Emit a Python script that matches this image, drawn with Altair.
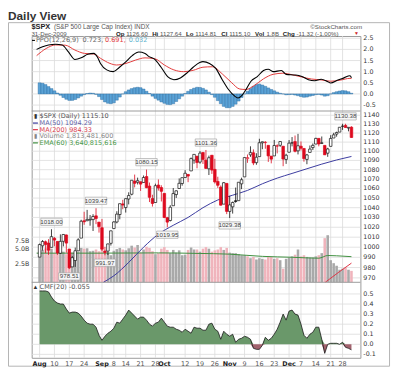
import altair as alt
import pandas as pd
import numpy as np

FONT = "Liberation Sans"
SFONT = "DejaVu Sans"

# ---------------- data ----------------
prior_close = 987.48
opens = [990.22, 1001.41, 1005.41, 1004.06, 999.83, 1008.89, 1005.77, 994.00, 1005.86, 1012.23, 998.18, 980.62, 986.88, 996.41, 1009.06, 1026.59, 1026.63, 1027.35, 1027.81, 1031.62, 1025.21,
         1019.52, 996.07, 996.12, 1003.84, 1018.67, 1025.36, 1032.99, 1043.92, 1040.15, 1049.03, 1053.99, 1067.87, 1066.60, 1067.14, 1066.35, 1072.69, 1062.56, 1049.48, 1045.38, 1063.69, 1061.02,
         1054.91, 1029.71, 1026.87, 1042.02, 1053.65, 1060.03, 1065.28, 1071.63, 1074.96, 1078.68, 1090.36, 1094.67, 1088.22, 1098.64, 1090.36, 1080.96, 1095.62, 1080.36, 1067.54, 1061.51, 1043.69, 1065.41,
         1036.18, 1040.92, 1047.14, 1047.30, 1064.95, 1072.31, 1091.86, 1096.04, 1098.31, 1087.59, 1094.13, 1109.22, 1109.44, 1106.44, 1094.66, 1094.86, 1105.83, 1106.49, 1105.47, 1091.07,
         1098.89, 1109.03, 1110.59, 1100.43, 1105.52, 1103.04, 1091.07, 1098.69, 1103.96, 1107.84, 1114.11, 1108.61, 1106.36, 1097.86, 1105.31, 1114.51, 1118.84, 1121.08, 1127.53, 1128.55, 1125.53, 1126.60]
highs = [1003.61, 1007.12, 1006.64, 1008.00, 1018.00, 1010.12, 1005.77, 1012.78, 1013.14, 1012.60, 998.18, 991.20, 999.61, 1008.92, 1027.59, 1035.82, 1037.75, 1032.47, 1033.33, 1039.47, 1025.21,
         1028.45, 1000.34, 1003.43, 1016.48, 1026.07, 1036.34, 1044.14, 1048.18, 1049.74, 1056.04, 1068.76, 1074.77, 1071.52, 1067.28, 1073.81, 1080.15, 1066.29, 1053.47, 1065.13, 1069.62, 1063.40,
         1054.91, 1030.60, 1042.58, 1060.55, 1058.02, 1070.67, 1071.51, 1079.46, 1075.30, 1093.17, 1096.56, 1094.67, 1100.17, 1098.64, 1101.36, 1095.21, 1095.83, 1091.75, 1072.48, 1063.26, 1066.83, 1065.41,
         1052.18, 1046.36, 1061.00, 1066.65, 1071.48, 1093.19, 1096.42, 1105.37, 1101.97, 1097.79, 1113.69, 1110.52, 1111.10, 1106.44, 1094.66, 1112.38, 1107.56, 1111.18, 1105.47, 1097.24,
         1112.28, 1115.58, 1117.28, 1119.13, 1110.72, 1103.04, 1097.04, 1106.25, 1108.50, 1114.76, 1114.11, 1116.21, 1106.36, 1103.74, 1117.68, 1120.27, 1121.58, 1126.48, 1130.38, 1130.38, 1126.42, 1127.64]
lows = [990.22, 996.68, 994.31, 992.49, 999.83, 1000.99, 992.40, 993.36, 1000.82, 994.60, 978.51, 980.62, 980.62, 996.39, 1009.06, 1022.48, 1026.21, 1021.57, 1016.20, 1023.13, 1014.62,
        996.28, 991.97, 992.25, 1001.65, 1018.67, 1023.97, 1028.04, 1038.40, 1035.00, 1043.42, 1052.87, 1061.20, 1064.27, 1057.46, 1066.35, 1060.39, 1045.85, 1041.17, 1045.38, 1057.83, 1046.47,
        1029.45, 1019.95, 1025.92, 1042.02, 1050.10, 1060.03, 1063.00, 1071.63, 1066.71, 1078.68, 1086.41, 1081.53, 1086.48, 1086.16, 1080.77, 1074.31, 1075.49, 1065.23, 1060.62, 1042.19, 1043.69, 1033.38,
        1029.38, 1033.94, 1045.15, 1047.30, 1059.32, 1072.31, 1087.40, 1093.81, 1084.90, 1085.33, 1094.13, 1102.19, 1102.70, 1088.40, 1086.81, 1094.86, 1097.63, 1104.75, 1083.74, 1086.25,
        1098.89, 1105.29, 1098.74, 1096.52, 1100.83, 1088.61, 1085.89, 1098.69, 1101.34, 1107.84, 1105.35, 1107.96, 1095.88, 1093.88, 1105.31, 1114.51, 1116.00, 1121.08, 1123.51, 1126.08, 1121.94, 1114.81]
closes = [1002.63, 1005.65, 1002.72, 997.08, 1010.48, 1007.10, 994.35, 1005.81, 1012.73, 1004.09, 979.73, 989.67, 996.46, 1007.37, 1026.13, 1025.57, 1028.00, 1028.12, 1030.98, 1028.93, 1020.62,
          998.04, 994.75, 1003.24, 1016.40, 1025.39, 1033.37, 1044.14, 1042.73, 1049.34, 1052.63, 1068.76, 1065.49, 1068.30, 1064.66, 1071.66, 1060.87, 1050.78, 1044.38, 1062.98, 1060.61, 1057.08,
          1029.85, 1025.21, 1040.46, 1054.72, 1057.58, 1065.48, 1071.49, 1076.19, 1073.19, 1092.02, 1096.56, 1087.68, 1097.91, 1091.06, 1081.40, 1092.91, 1079.60, 1066.95, 1063.41, 1042.63, 1066.11, 1036.19,
          1042.88, 1045.41, 1046.50, 1066.63, 1069.30, 1093.08, 1093.01, 1098.51, 1087.24, 1093.48, 1109.30, 1110.32, 1109.80, 1094.90, 1091.38, 1106.24, 1105.65, 1110.63, 1091.49, 1095.63,
          1108.86, 1109.24, 1099.92, 1105.98, 1103.25, 1091.94, 1095.95, 1102.35, 1106.41, 1114.11, 1107.93, 1109.18, 1096.08, 1102.47, 1114.05, 1118.02, 1120.59, 1126.48, 1127.78, 1126.20, 1126.42, 1115.10]
volume_b = [4.6, 4.9, 5.3, 4.9, 5.2, 4.2, 4.4, 4.6, 4.5, 4.0, 4.5, 4.3, 4.4, 4.5, 5.4, 5.2, 5.3, 4.6, 4.7, 5.0, 4.6,
            5.6, 4.8, 4.3, 3.8, 4.7, 5.1, 5.4, 5.0, 4.8, 5.3, 6.0, 5.5, 6.2, 4.3, 5.0, 5.7, 5.4, 4.6, 4.0, 4.2, 5.2,
            5.6, 4.9, 4.2, 4.9, 4.3, 4.8, 3.8, 3.9, 4.9, 5.5, 5.0, 5.0, 4.5, 5.2, 5.6, 5.2, 4.5, 4.8, 5.0, 5.6, 4.9, 5.4,
            4.3, 4.2, 4.2, 4.0, 3.8, 3.8, 3.6, 3.3, 3.5, 3.1, 3.3, 3.2, 3.1, 3.6, 3.5, 3.2, 3.3, 3.0, 2.0, 3.2,
            3.4, 3.6, 3.9, 5.0, 3.6, 3.8, 3.5, 3.4, 3.4, 3.6, 3.8, 4.2, 8.6, 9.9, 3.0, 2.6, 2.3, 1.9, 2.0, 2.1, 1.9, 1.8]
ppo_hist = [0.50, 0.48, 0.42, 0.33, 0.24, 0.14, 0.04, -0.06, -0.16, -0.24,
            -0.29, -0.29, -0.25, -0.18, -0.10, -0.03, 0.02, 0.04, 0.03, -0.02,
            -0.12, -0.25, -0.36, -0.42, -0.44, -0.40, -0.28, -0.14, 0.00, 0.10,
            0.18, 0.24, 0.28, 0.30, 0.28, 0.22, 0.12, 0.02, -0.10, -0.20,
            -0.28, -0.36, -0.42, -0.47, -0.48, -0.44, -0.34, -0.22, -0.10, 0.02,
            0.12, 0.20, 0.26, 0.30, 0.29, 0.25, 0.18, 0.08, -0.03, -0.15,
            -0.30, -0.44, -0.56, -0.62, -0.62, -0.56, -0.46, -0.32, -0.16, 0.00,
            0.12, 0.24, 0.34, 0.42, 0.44, 0.40, 0.34, 0.27, 0.20, 0.14,
            0.08, 0.03, 0.00, -0.04, -0.03, -0.02, -0.05, -0.08, -0.12, -0.15,
            -0.14, -0.10, -0.07, -0.03, -0.02, -0.05, -0.10, -0.08, 0.00, 0.06,
            0.10, 0.13, 0.15, 0.14, 0.10, 0.03]
cmf = [0.53, 0.53, 0.53, 0.52, 0.47, 0.43, 0.41, 0.40, 0.40, 0.35,
       0.31, 0.32, 0.32, 0.31, 0.28, 0.24, 0.21, 0.20, 0.20, 0.17,
       0.09, 0.04, 0.08, 0.11, 0.13, 0.16, 0.22, 0.21, 0.25, 0.29,
       0.34, 0.31, 0.28, 0.25, 0.27, 0.27, 0.24, 0.20, 0.18, 0.21,
       0.22, 0.26, 0.22, 0.18, 0.17, 0.17, 0.15, 0.14, 0.12, 0.15,
       0.13, 0.11, 0.17, 0.16, 0.16, 0.14, 0.14, 0.20, 0.21, 0.15,
       0.13, 0.05, 0.13, 0.10, 0.08, 0.10, 0.02, 0.05, 0.06, 0.08,
       0.07, 0.05, -0.04, -0.05, -0.05, -0.01, 0.07, 0.04, 0.06, 0.10,
       0.15, 0.22, 0.30, 0.24, 0.33, 0.34, 0.30, 0.29, 0.20, 0.09,
       0.06, 0.10, 0.12, 0.17, 0.17, 0.05, -0.09, 0.00, 0.01, 0.01,
       0.01, 0.00, 0.02, -0.03, -0.04, -0.055]

ppo_i = [-1, 1, 3, 5.4, 7.6, 9.7, 11.9, 14, 16.2, 18.3, 19.4, 20.5, 22.6, 24.8, 26.9, 29.1, 31.2, 33.4, 35.5, 36.6, 38.8,
         40.9, 43.1, 45.2, 47.4, 49.5, 51.7, 53.9, 55, 57.2, 59.3, 61.5, 63.6, 65.7, 66.8, 67.9, 69.5, 71.1, 73.3, 75.4, 77,
         78.6, 81.4, 83, 86.2, 88.3, 90.5, 92.6, 94.8, 96.9, 98, 100.2, 102.3, 104.5, 105]
ppo_v = [2.0, 2.12, 2.2, 2.23, 2.2, 1.89, 1.55, 1.62, 1.78, 1.82, 1.67, 1.37, 1.08, 1.0, 1.2, 1.45, 1.72, 1.88, 1.82, 1.7, 1.55,
         1.2, 0.78, 0.64, 0.72, 0.93, 1.2, 1.41, 1.45, 1.37, 1.15, 0.64, 0.2, -0.1, -0.18, -0.1, 0.2, 0.56, 0.78, 1.05, 1.11,
         1.0, 1.05, 0.88, 0.85, 0.78, 0.64, 0.59, 0.66, 0.56, 0.49, 0.61, 0.71, 0.82, 0.723]
sig_i = [-1, 2.2, 5.4, 8.6, 11.9, 15.1, 18.3, 20.5, 23.7, 25.9, 29.1, 32.3, 35.5, 38.8, 42, 45.2, 48.5, 51.7, 55, 58.2,
         61.5, 64.7, 67.4, 69.5, 72.2, 75.4, 78.6, 81.9, 85.1, 88.3, 91.5, 94.8, 98, 101.2, 104.5, 105]
sig_v = [1.72, 2.04, 2.2, 2.19, 1.97, 1.82, 1.79, 1.6, 1.37, 1.3, 1.37, 1.52, 1.62, 1.58, 1.3, 1.08, 1.0, 1.06, 1.2, 1.22,
         0.9, 0.5, 0.22, 0.2, 0.37, 0.68, 0.88, 0.93, 0.86, 0.76, 0.67, 0.63, 0.57, 0.62, 0.7, 0.691]

ma50_i = [21.5, 25, 30, 35, 40, 45, 50, 55, 60, 65, 70, 75, 80, 85, 90, 95, 100, 105]
ma50_v = [965.8, 972, 985, 1000, 1013, 1022, 1030, 1040, 1048, 1053, 1058, 1065, 1071, 1076, 1081, 1086, 1090.5, 1094.29]
ma200_i = [96.2, 100.5, 105]
ma200_v = [965.8, 975.0, 984.33]
ema60_i = [-1, 20, 40, 53, 64, 75, 85, 94, 97, 100, 105]
ema60_v = [4.2, 4.2, 4.25, 4.15, 4.0, 3.6, 3.45, 3.3, 3.75, 3.7, 3.55]

hi_lab_i = [4, 19, 36, 56, 103]
hi_lab_v = [1018.00, 1039.47, 1080.15, 1101.36, 1130.38]
lo_lab_i = [10, 22, 43, 64]
lo_lab_v = [978.51, 991.97, 1019.95, 1029.38]

tick_idx = [0, 5, 10, 15, 21, 25, 29, 34, 39, 42, 49, 54, 59, 64, 69, 74, 79, 84, 88, 93, 98, 102]
tick_lab = ["Aug", "10", "17", "24", "Sep", "8", "14", "21", "28", "Oct", "12", "19", "26",
            "Nov", "9", "16", "23", "Dec", "7", "14", "21", "28"]
month_idx = [0, 21, 42, 64, 84]
ppo_ticks = [-0.5, 0.0, 0.5, 1.0, 1.5, 2.0, 2.5]
price_ticks = list(range(970, 1141, 10))
vol_ticks = [2.5, 5.0, 7.5]
cmf_ticks = [-0.1, 0.0, 0.1, 0.2, 0.3, 0.4, 0.5]

header_segments = [("Op", True), ("1126.60", False), ("Hi", True), ("1127.64", False),
                   ("Lo", True), ("1114.81", False), ("Cl", True), ("1115.10", False),
                   ("Vol", True), ("1.8B", False), ("Chg", True), ("-11.32 (-1.00%)", False)]

# ---------------- tables ----------------
n = len(closes)
df = pd.DataFrame({"i": np.arange(n), "open": opens, "high": highs, "low": lows, "close": closes,
                   "vol": volume_b, "hist": ppo_hist, "cmf": cmf})
df["prev"] = [prior_close] + closes[:-1]
up = df["close"] >= df["prev"]
df["col"] = np.where(up, "#111111", "#dd0a1e")
df["fill"] = np.where(df["close"] > df["open"], "#ffffff", df["col"])
df["vcol"] = np.where(up, "#a9a9a9", "#f0b4bc")

ppo_df = pd.DataFrame({"i": ppo_i, "v": ppo_v})
sig_df = pd.DataFrame({"i": sig_i, "v": sig_v})
ma50_df = pd.DataFrame({"i": ma50_i, "p": ma50_v})
ma200_df = pd.DataFrame({"i": ma200_i, "p": ma200_v})
ema_df = pd.DataFrame({"i": ema60_i, "v": ema60_v})
hi_df = pd.DataFrame({"i": hi_lab_i, "p": hi_lab_v})
hi_df["t"] = hi_df["p"].map(lambda v: f"{v:.2f}")
lo_df = pd.DataFrame({"i": lo_lab_i, "p": lo_lab_v})
lo_df["t"] = lo_df["p"].map(lambda v: f"{v:.2f}")

def fmt1(v):
    return ("-" if v < 0 else "") + f"{abs(v):.1f}"

ppo_tick_df = pd.DataFrame({"v": ppo_ticks, "t": [fmt1(v) for v in ppo_ticks]})
price_tick_df = pd.DataFrame({"v": price_ticks, "t": [str(v) for v in price_ticks]})
vol_tick_df = pd.DataFrame({"v": vol_ticks, "t": [f"{v:.1f}B" for v in vol_ticks]})
cmf_tick_df = pd.DataFrame({"v": cmf_ticks, "t": [fmt1(v) for v in cmf_ticks]})
xt_df = pd.DataFrame({"i": tick_idx, "t": tick_lab})
xt_df["month"] = xt_df["i"].isin(month_idx)

# ---------------- scales (layout) ----------------
W, H = 333, 326
XS = alt.Scale(domain=[-1.0, 106.35], nice=False, zero=False)
PPS = alt.Scale(domain=[-0.767, 2.602], range=[76, 0], nice=False, zero=False)
PS = alt.Scale(type="log", domain=[965.75, 1144.81], range=[249.5, 76], nice=False)
VS = alt.Scale(type="log", domain=[1.043, 10.78], range=[249.5, 200], nice=False)
CS = alt.Scale(domain=[-0.134, 0.616], range=[326, 249.5], nice=False, zero=False)

GRID = "#dcdcdc"
LABC = "#333333"
AXS = 6.4

def xq():
    return alt.X("i:Q", scale=XS, axis=None, title=None)

def yq(field, scale):
    return alt.Y(field, scale=scale, axis=None, title=None)

def hgrid(tdf, scale):
    return alt.Chart(tdf).mark_rule(color=GRID, strokeWidth=0.8).encode(
        x=alt.value(0), x2=alt.value(W), y=yq("v:Q", scale))

def ylabels(tdf, scale, x, align="left"):
    return alt.Chart(tdf).mark_text(font=SFONT, fontSize=AXS, color=LABC, align=align, baseline="middle").encode(
        x=alt.value(x), y=yq("v:Q", scale), text="t:N")

vgrid = alt.Chart(xt_df).mark_rule(color=GRID, strokeWidth=0.8).encode(
    x=xq(), y=alt.value(0), y2=alt.value(H))
ppo_grid = hgrid(ppo_tick_df, PPS)
price_grid = hgrid(price_tick_df, PS)
cmf_grid = hgrid(cmf_tick_df, CS)

ppo_lab = ylabels(ppo_tick_df, PPS, W + 3)
price_lab = ylabels(price_tick_df, PS, W + 3)
cmf_lab = ylabels(cmf_tick_df, CS, W + 3)
vol_lab = ylabels(vol_tick_df, VS, -2.5, align="right")
x_lab_day = alt.Chart(xt_df[~xt_df["month"]]).mark_text(
    font=SFONT, fontSize=6.5, color="#555555", baseline="middle").encode(
    x=xq(), y=alt.value(H + 5.8), text="t:N")
x_lab_mon = alt.Chart(xt_df[xt_df["month"]]).mark_text(
    font=SFONT, fontSize=6.5, color="#222222", fontWeight="bold", baseline="middle").encode(
    x=xq(), y=alt.value(H + 5.8), text="t:N")

# ---------------- volume overlay ----------------
vol_bars = alt.Chart(df).mark_bar(size=2.6).encode(
    x=xq(), y=yq("vol:Q", VS), y2=alt.datum(1.043), color=alt.Color("vcol:N", scale=None))
ema_line = alt.Chart(ema_df).mark_line(color="#3f8f3f", strokeWidth=1, interpolate="monotone").encode(
    x=xq(), y=yq("v:Q", VS))
vol_layer = alt.layer(vol_bars, ema_line)

# ---------------- price ----------------
ma50 = alt.Chart(ma50_df).mark_line(color="#3a3a9e", strokeWidth=1, interpolate="monotone").encode(
    x=xq(), y=yq("p:Q", PS))
ma200 = alt.Chart(ma200_df).mark_line(color="#dd3344", strokeWidth=1).encode(
    x=xq(), y=yq("p:Q", PS))
wicks = alt.Chart(df).mark_rule(strokeWidth=0.8).encode(
    x=xq(), y=yq("low:Q", PS), y2="high:Q", color=alt.Color("col:N", scale=None))
bodies = alt.Chart(df).mark_bar(size=2.6, strokeWidth=0.7).encode(
    x=xq(), y=yq("open:Q", PS), y2="close:Q",
    fill=alt.Fill("fill:N", scale=None), stroke=alt.Stroke("col:N", scale=None))
BOX = "M-1,-0.34L1,-0.34L1,0.34L-1,0.34Z"
def price_label(ldf, off):
    box = alt.Chart(ldf).mark_point(shape=BOX, size=470, fill="#f6f6f6", stroke="#9a9a9a", strokeWidth=0.6,
                                    fillOpacity=1, opacity=1, yOffset=off).encode(x=xq(), y=yq("p:Q", PS))
    t = alt.Chart(ldf).mark_text(fontSize=6.3, font=FONT, color="#444444", dy=off).encode(
        x=xq(), y=yq("p:Q", PS), text="t:N")
    return [box, t]
price_layer = alt.layer(ma50, ma200, wicks, bodies, *price_label(hi_df, -7.5), *price_label(lo_df, 7.5))

# ---------------- PPO ----------------
hist_bars = alt.Chart(df).mark_bar(size=3.0, fill="#5aa2d6", stroke="#24679c", strokeWidth=0.4).encode(
    x=xq(), y=yq("hist:Q", PPS), y2=alt.datum(0))
sig_line = alt.Chart(sig_df).mark_line(color="#e23b3b", strokeWidth=1, interpolate="monotone").encode(
    x=xq(), y=yq("v:Q", PPS))
ppo_line = alt.Chart(ppo_df).mark_line(color="#000000", strokeWidth=1.1, interpolate="monotone").encode(
    x=xq(), y=yq("v:Q", PPS))
ppo_layer = alt.layer(hist_bars, sig_line, ppo_line)

# ---------------- CMF ----------------
cmf_base = alt.Chart(df).transform_calculate(pos="max(datum.cmf, 0)", neg="min(datum.cmf, 0)")
cmf_pos = cmf_base.mark_area(color="#6a986a", opacity=1).encode(
    x=xq(), y=yq("pos:Q", CS), y2=alt.datum(0))
cmf_neg = cmf_base.mark_area(color="#a2636e", opacity=1).encode(
    x=xq(), y=yq("neg:Q", CS), y2=alt.datum(0))
cmf_line = alt.Chart(df).mark_line(color="#1a1a1a", strokeWidth=0.8).encode(
    x=xq(), y=yq("cmf:Q", CS))
cmf_layer = alt.layer(cmf_pos, cmf_neg, cmf_line)

# ---------------- separators, frame, page bounds ----------------
one = pd.DataFrame({"k": [0]})
def hrule(y, x1, x2, color, width=1.0):
    return alt.Chart(one).mark_rule(color=color, strokeWidth=width).encode(
        x=alt.value(x1), x2=alt.value(x2), y=alt.value(y))
def vrule(x, y1, y2, color, width=1.0):
    return alt.Chart(one).mark_rule(color=color, strokeWidth=width).encode(
        x=alt.value(x), y=alt.value(y1), y2=alt.value(y2))

FR = "#b4b4b4"
frame = [hrule(-13.5, -23.5, 362.5, FR), hrule(334.5, -23.5, 362.5, FR),
         vrule(-23.5, -13.5, 334.5, FR), vrule(362.5, -13.5, 334.5, FR)]
seps = [hrule(76, 0, W, "#9a9a9a"), hrule(249.5, 0, W, "#9a9a9a")]
bounds = alt.Chart(one).mark_rule(opacity=0, strokeOpacity=0).encode(
    x=alt.value(-24), x2=alt.value(W + 32), y=alt.value(-25), y2=alt.value(H + 10))

def txt(s, x, y, size=7.0, color="#444444", weight="normal", align="left", baseline="middle", font=FONT):
    return alt.Chart(pd.DataFrame({"t": [s]})).mark_text(
        font=font, fontSize=size, color=color, fontWeight=weight, align=align, baseline=baseline
    ).encode(x=alt.value(x), y=alt.value(y), text="t:N")

# approximate Arial/Liberation advance widths (em) to lay out the header line
W_N = {c: 0.556 for c in "0123456789"}
W_N.update({".": 0.278, ",": 0.278, "-": 0.333, "(": 0.333, ")": 0.333, "%": 0.889, " ": 0.278, "B": 0.667})
W_B = {"O": 0.778, "p": 0.611, "H": 0.722, "i": 0.278, "L": 0.611, "o": 0.611, "C": 0.722,
       "l": 0.278, "V": 0.667, "h": 0.611, "g": 0.611}
def tw(s, size, bold):
    table = W_B if bold else W_N
    return sum(table.get(c, 0.556) for c in s) * size

HS = 6.2
L1 = -7.4   # baseline of header line 1 (plot coords)
L2 = -0.2   # baseline of header line 2
texts = [
    txt("Daily View", -24, -16.0, 12, "#333333", "bold", baseline="alphabetic"),
    txt("$SPX", -0.3, L1, 7.5, "#222222", "bold", baseline="alphabetic"),
    txt("(S&P 500 Large Cap Index) INDX", 22.5, L1, 6.5, "#555555", baseline="alphabetic"),
    txt("\u00a9StockCharts.com", 334.7, L1, 6.3, "#555555", align="right", baseline="alphabetic"),
    txt("31-Dec-2009", -0.3, L2, HS, "#555555", baseline="alphabetic"),
    txt("\u25bc", 326.5, L2 - 0.3, 5, "#cc2222", baseline="alphabetic"),
]
xpos = 85.3
for s, b in header_segments:
    texts.append(txt(s, xpos, L2, HS, "#222222" if b else "#555555", "bold" if b else "normal",
                     baseline="alphabetic"))
    xpos += tw(s, HS, b) + (1.8 if b else 3.9)

LS = 6.6
texts += [
    # PPO legend
    hrule(4.5, 0.3, 3.3, "#111111", 1.2),
    txt("PPO(12,26,9)", 4.3, 4.5, LS, "#666666", font=SFONT),
    txt("0.723,", 51.5, 4.5, LS, "#666666", font=SFONT),
    txt("0.691,", 74.3, 4.5, LS, "#e23b3b", font=SFONT),
    txt("0.032", 98.3, 4.5, LS, "#5fb3cf", font=SFONT),
    # price legend
    txt("\u25ae", 3.8, 81.5, 6, "#333333", align="center"),
    txt("$SPX (Daily) 1115.10", 8, 81.5, LS, "#555555", font=SFONT),
    hrule(88.2, 1.3, 6.3, "#3a3a9e", 1.2),
    txt("MA(50) 1094.29", 8, 88.2, LS, "#6464a8", font=SFONT),
    hrule(94.9, 1.3, 6.3, "#dd3344", 1.2),
    txt("MA(200) 984.33", 8, 94.9, LS, "#d84050", font=SFONT),
    txt("\u25ae", 3.8, 101.6, 6, "#888888", align="center"),
    txt("Volume 1,813,481,600", 8, 101.6, LS, "#888888", font=SFONT),
    hrule(108.3, 1.3, 6.3, "#3f8f3f", 1.2),
    txt("EMA(60) 3,640,815,616", 8, 108.3, LS, "#4a9a4a", font=SFONT),
    # CMF legend
    txt("\u25b2", 3.8, 253.8, 6, "#333333", align="center"),
    txt("CMF(20) -0.055", 8, 253.8, LS, "#555555", font=SFONT),
]

chart = alt.layer(
    bounds, vgrid, ppo_grid, price_grid, cmf_grid,
    vol_layer, price_layer, ppo_layer, cmf_layer,
    *seps, *frame,
    ppo_lab, price_lab, cmf_lab, vol_lab, x_lab_day, x_lab_mon,
    *texts
).resolve_scale(y="independent").properties(
    width=W, height=H, padding=0,
).configure_view(stroke="#9a9a9a", strokeWidth=1)

chart.save("out.html", embed_options={"renderer": "svg", "actions": False})
